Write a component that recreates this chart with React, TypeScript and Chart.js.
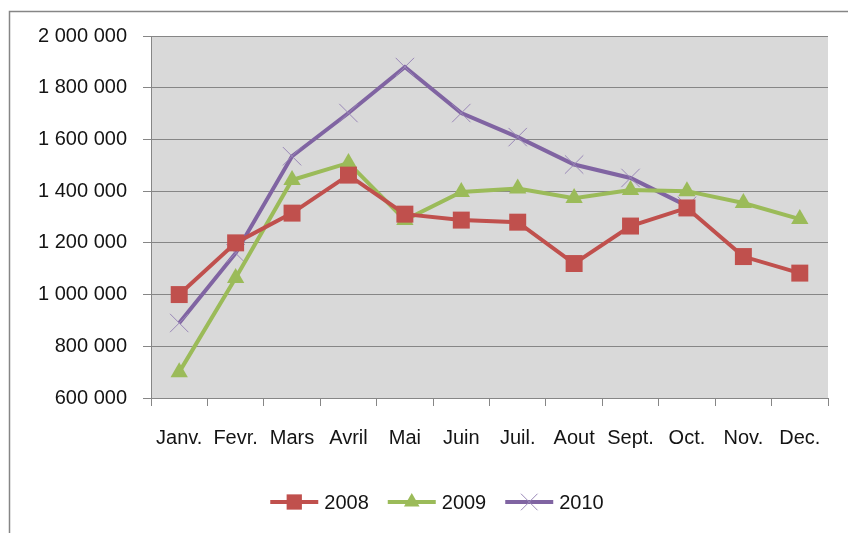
import React, { useEffect, useRef } from "react";
import { Chart, registerables } from "chart.js";

Chart.register(...registerables);

const months = ["Janv.", "Fevr.", "Mars", "Avril", "Mai", "Juin", "Juil.", "Aout", "Sept.", "Oct.", "Nov.", "Dec."];
const seriesNames = ["2008", "2009", "2010"];
const values2008 = [1000000, 1200000, 1315000, 1462000, 1311000, 1288000, 1280000, 1120000, 1265000, 1335000, 1147000, 1083000];
const values2009 = [700000, 1064000, 1443000, 1509000, 1288000, 1397000, 1410000, 1373000, 1404000, 1400000, 1354000, 1292000];
const values2010 = [890000, 1160000, 1535000, 1702000, 1880000, 1702000, 1609000, 1503000, 1451000, 1343000, null, null];
const yMin = 600000;
const yMax = 2000000;
const yStep = 200000;

const FONT = "'Liberation Sans', Arial, sans-serif";
const GRID = "#868686";
const TEXT = "#141414";

function fmt(v: number): string {
  return String(Math.round(v)).replace(/\B(?=(\d{3})+(?!\d))/g, " ");
}

const framePlugin = {
  id: "frame",
  beforeDraw(chart: any) {
    const { ctx, chartArea } = chart;
    ctx.save();
    ctx.fillStyle = "#ffffff";
    ctx.fillRect(0, 0, chart.width, chart.height);
    ctx.strokeStyle = GRID;
    ctx.lineWidth = 1.5;
    ctx.beginPath();
    ctx.moveTo(9.5, chart.height);
    ctx.lineTo(9.5, 11.5);
    ctx.lineTo(chart.width, 11.5);
    ctx.stroke();
    ctx.fillStyle = "#d9d9d9";
    ctx.fillRect(chartArea.left, chartArea.top, chartArea.right - chartArea.left, chartArea.bottom - chartArea.top);
    ctx.restore();
  },
};

function drawMarker(ctx: CanvasRenderingContext2D, style: string, x: number, y: number, r: number) {
  ctx.beginPath();
  if (style === "rect") {
    const s = Math.SQRT1_2 * r;
    ctx.rect(x - s, y - s, 2 * s, 2 * s);
    ctx.fill();
  } else if (style === "triangle") {
    let rad = 0;
    ctx.moveTo(x + Math.sin(rad) * r, y - Math.cos(rad) * r);
    rad += (2 * Math.PI) / 3;
    ctx.lineTo(x + Math.sin(rad) * r, y - Math.cos(rad) * r);
    rad += (2 * Math.PI) / 3;
    ctx.lineTo(x + Math.sin(rad) * r, y - Math.cos(rad) * r);
    ctx.closePath();
    ctx.fill();
  } else {
    const s = Math.SQRT1_2 * r;
    ctx.moveTo(x - s, y - s);
    ctx.lineTo(x + s, y + s);
    ctx.moveTo(x + s, y - s);
    ctx.lineTo(x - s, y + s);
    ctx.stroke();
  }
}

const legendPlugin = {
  id: "lineLegend",
  afterDraw(chart: any) {
    const { ctx } = chart;
    const ds = chart.data.datasets;
    ctx.save();
    ctx.font = `20px ${FONT}`;
    const lineW = 48;
    const gapText = 6;
    const gapItem = 19;
    const widths = ds.map((d: any) => ctx.measureText(d.label).width);
    let total = 0;
    widths.forEach((w: number, i: number) => {
      total += lineW + gapText + w + (i < widths.length - 1 ? gapItem : 0);
    });
    let x = 437 - total / 2;
    const y = 502;
    ds.forEach((d: any, i: number) => {
      ctx.strokeStyle = d.borderColor;
      ctx.lineWidth = d.borderWidth;
      ctx.beginPath();
      ctx.moveTo(x, y);
      ctx.lineTo(x + lineW, y);
      ctx.stroke();
      ctx.fillStyle = d.pointBackgroundColor;
      ctx.strokeStyle = d.pointBorderColor;
      ctx.lineWidth = d.pointBorderWidth || 1;
      drawMarker(ctx, d.pointStyle, x + lineW / 2, y, d.pointRadius * 0.9);
      ctx.fillStyle = TEXT;
      ctx.textBaseline = "middle";
      ctx.textAlign = "left";
      ctx.fillText(d.label, x + lineW + gapText, y + 1);
      x += lineW + gapText + widths[i] + gapItem;
    });
    ctx.restore();
  },
};

export default function App() {
  const ref = useRef<HTMLCanvasElement | null>(null);

  useEffect(() => {
    document.body.style.margin = "0";
    const canvas = ref.current;
    if (!canvas) return;
    const chart = new Chart(canvas, {
      type: "line",
      data: {
        labels: months,
        datasets: [
          {
            label: seriesNames[0],
            data: values2008,
            borderColor: "#c0504d",
            backgroundColor: "#c0504d",
            borderWidth: 4,
            pointStyle: "rect",
            pointRadius: 12,
            pointBackgroundColor: "#c0504d",
            pointBorderColor: "#c0504d",
            pointBorderWidth: 0,
            tension: 0,
          },
          {
            label: seriesNames[1],
            data: values2009,
            borderColor: "#9bbb59",
            backgroundColor: "#9bbb59",
            borderWidth: 4,
            pointStyle: "triangle",
            pointRadius: 10,
            pointBackgroundColor: "#9bbb59",
            pointBorderColor: "#9bbb59",
            pointBorderWidth: 0,
            tension: 0,
          },
          {
            label: seriesNames[2],
            data: values2010,
            borderColor: "#8064a2",
            backgroundColor: "#8064a2",
            borderWidth: 4,
            pointStyle: "crossRot",
            pointRadius: 13,
            pointBackgroundColor: "#8f7bb0",
            pointBorderColor: "#9a88b8",
            pointBorderWidth: 1,
            tension: 0,
            spanGaps: false,
          },
        ],
      },
      options: {
        responsive: false,
        animation: false,
        layout: { padding: { left: 0, top: 36, right: 20, bottom: 0 } },
        plugins: {
          legend: { display: false },
          tooltip: { enabled: false },
        },
        scales: {
          x: {
            offset: true,
            grid: { offset: true, drawOnChartArea: false, drawTicks: true, tickLength: 8, color: GRID },
            border: { color: GRID, width: 1 },
            ticks: {
              color: TEXT,
              font: { family: FONT, size: 20 },
              padding: 20,
              maxRotation: 0,
              autoSkip: false,
            },
            afterFit: (s: any) => {
              s.height = 135;
            },
          },
          y: {
            min: yMin,
            max: yMax,
            grid: { color: GRID, tickLength: 8 },
            border: { color: GRID, width: 1 },
            ticks: {
              stepSize: yStep,
              color: TEXT,
              font: { family: FONT, size: 20 },
              padding: 16,
              callback: (v: any) => fmt(Number(v)),
            },
            afterFit: (s: any) => {
              s.width = 151;
            },
          },
        },
      },
      plugins: [framePlugin, legendPlugin],
    } as any);
    return () => chart.destroy();
  }, []);

  return (
    <div style={{ width: 848, height: 533 }}>
      <canvas ref={ref} width={848} height={533} style={{ display: "block" }} />
    </div>
  );
}
